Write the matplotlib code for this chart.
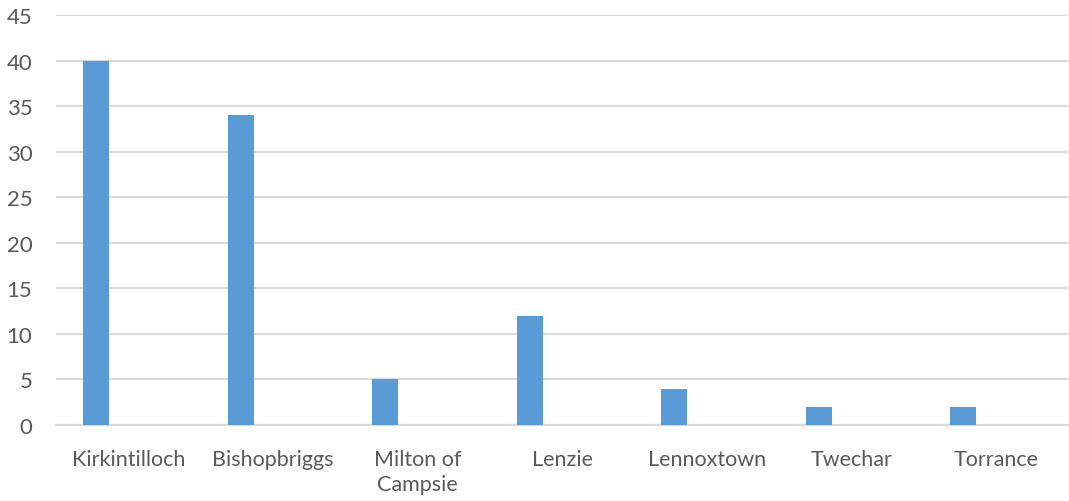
import matplotlib
matplotlib.use("Agg")
import matplotlib.pyplot as plt
import numpy as np

categories = ["Kirkintilloch", "Bishopbriggs", "Milton of\nCampsie", "Lenzie",
              "Lennoxtown", "Twechar", "Torrance"]
values = [40, 34, 5, 12, 4, 2, 2]
yticks = [0, 5, 10, 15, 20, 25, 30, 35, 40, 45]

BAR_COLOR = "#5B9BD5"
GRID_COLOR = "#D9D9D9"
TEXT_COLOR = "#595959"

plt.rcParams["font.family"] = ["Lato", "DejaVu Sans"]

W, H = 1069, 502
fig = plt.figure(figsize=(W / 100, H / 100), dpi=100)
ax = fig.add_axes([56 / W, 1 - 426 / H, (1068 - 56) / W, (426 - 16) / H])

x = np.arange(len(categories))
ax.bar(x - 0.223, values, width=0.18, color=BAR_COLOR, zorder=3)

ax.set_xlim(-0.5, len(categories) - 0.5)
ax.set_ylim(0, 45)
ax.set_yticks(yticks)
ax.set_xticks(x)
ax.set_xticklabels(categories, linespacing=1.35)

ax.grid(axis="y", color=GRID_COLOR, linewidth=1.5, zorder=0)
for s in ["top", "right", "left"]:
    ax.spines[s].set_visible(False)
ax.spines["bottom"].set_color(GRID_COLOR)
ax.spines["bottom"].set_linewidth(1.5)

ax.tick_params(axis="both", length=0, colors=TEXT_COLOR)
ax.tick_params(axis="y", pad=17, labelsize=16)
ax.tick_params(axis="x", pad=17, labelsize=15.5)

fig.savefig("out.png", dpi=100, facecolor="white")
